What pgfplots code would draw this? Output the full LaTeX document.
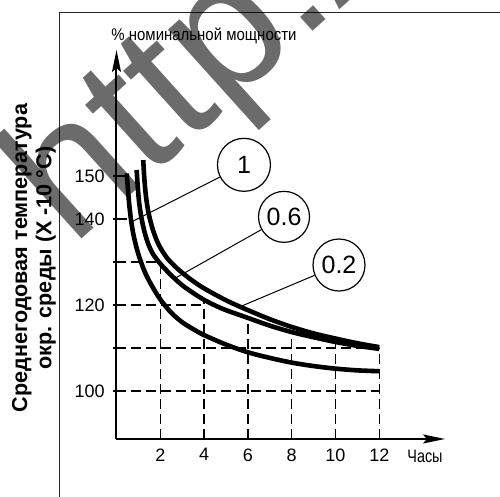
\documentclass[border=0pt]{standalone}
\usepackage{pgfplots}
\pgfplotsset{compat=1.18}
\usepackage{fontspec}
\setmainfont{Liberation Sans}
\usepackage{graphicx}
\usetikzlibrary{arrows.meta}
\begin{document}
\begin{tikzpicture}
\useasboundingbox (0,0) rectangle (250pt,248.5pt);
\clip (0,0) rectangle (250pt,248.5pt);
\fill[white] (0,0) rectangle (250pt,248.5pt);
\begin{scope}[x=0.5pt,y=-0.5pt,shift={(0pt,248.5pt)}]
\draw[line width=0.5pt, black!85] (60,500) -- (60,13) -- (505,13);
\node[rotate=90, font=\bfseries\fontsize{10.8}{12.2}\selectfont, align=center] at (34,258) {Среднегодовая температура\\окр. среды (X -10 °C)};
\end{scope}
\begin{axis}[
  at={(58.25pt,29pt)}, anchor=south west,
  x=10.95pt, y=2.15pt,
  xmin=0, xmax=15, ymin=88.84, ymax=179.3,
  axis lines=left,
  axis line style={line width=1pt, black},
  x axis line style={-{Stealth[length=11pt,width=4.5pt,inset=2pt]}},
  y axis line style={-{Stealth[length=11pt,width=4.5pt,inset=2pt]}},
  xtick={2,4,6,8,10,12}, xticklabels={2,4,6,8,10,12},
  x tick style={draw=none},
  ytick={100,110,120,130,140,150}, yticklabels={100,,120,,140,150},
  y tick style={line width=0.8pt, black},
  tick align=center, major tick length=3.5pt,
  tick label style={font=\fontsize{9}{10}\selectfont},
  xticklabel style={yshift=0.5pt},
  yticklabel style={inner sep=0pt, xshift=-4pt},
  clip=false,
]
% dashed reference lines
\pgfplotsset{dl/.style={line width=0.75pt, black, dash pattern=on 5pt off 2.5pt}}
\addplot[dl] coordinates {(0,100) (12,100)};
\addplot[dl] coordinates {(0,110) (12,110)};
\addplot[dl] coordinates {(0,120) (4,120)};
\addplot[dl] coordinates {(0,130) (2,130)};
\addplot[dl] coordinates {(0,150) (0.47,150)};
\addplot[dl] coordinates {(2,88.84) (2,129.6)};
\addplot[dl] coordinates {(4,88.84) (4,121.2)};
\addplot[dl] coordinates {(6,88.84) (6,117.0)};
\addplot[dl] coordinates {(8,88.84) (8,113.7)};
\addplot[dl] coordinates {(10,88.84) (10,111.4)};
\addplot[dl] coordinates {(12,88.84) (12,110)};
\addplot[line width=0.8pt, black] coordinates {(0,140) (0.5,140)};
% curve 1
\addplot[line width=2.3pt, black, smooth] coordinates {
(0.47,150.6) (0.52,147) (0.58,143.5) (0.65,140.3) (0.75,137) (0.88,134) (1.05,131)
(1.3,127.6) (1.6,124.6) (2.0,121.3) (2.5,118.2) (3.0,116.0) (3.5,114.4) (4.0,113.0)
(5.0,110.8) (6.0,109.0) (7.0,107.7) (8.0,106.6) (9.0,105.8) (10.0,105.2) (11.0,104.8) (12.0,104.6)};
% curve 0.6
\addplot[line width=2.3pt, black, smooth] coordinates {
(0.92,151.4) (0.97,147.5) (1.03,144) (1.12,140.8) (1.25,137.6) (1.42,134.6) (1.65,132.0)
(2.0,129.6) (2.5,126.9) (3.0,124.6) (3.5,122.8) (4.0,121.2) (4.5,119.9) (5.0,118.8)
(6.0,117.0) (7.0,115.2) (8.0,113.7) (9.0,112.5) (10.0,111.4) (11.0,110.5) (12.0,109.8)};
% curve 0.2
\addplot[line width=2.3pt, black, smooth] coordinates {
(1.22,153.7) (1.27,149.5) (1.33,146) (1.42,142.6) (1.55,139.5) (1.72,136.6) (1.95,133.8)
(2.3,131.0) (2.75,128.6) (3.3,126.3) (3.8,124.5) (4.3,123.0) (5.0,121.1) (5.64,119.6)
(6.0,118.8) (7.0,116.7) (8.0,114.9) (9.0,113.4) (10.0,112.2) (11.0,111.1) (12.0,110.2)};
% labels
\node[draw, circle, line width=0.6pt, minimum size=26.5pt, inner sep=0pt, fill=white,
      font=\fontsize{12.5}{14}\selectfont] (c1) at (axis cs:5.82,152.6) {1};
\node[draw, circle, line width=0.6pt, minimum size=25.5pt, inner sep=0pt, fill=white,
      font=\fontsize{12.5}{14}\selectfont] (c2) at (axis cs:7.65,140.5) {0.6};
\node[draw, circle, line width=0.6pt, minimum size=26pt, inner sep=0pt, fill=white,
      font=\fontsize{12.5}{14}\selectfont] (c3) at (axis cs:10.16,129.3) {0.2};
\draw[line width=0.5pt] (c1) -- (axis cs:0.68,139.3);
\draw[line width=0.5pt] (c2) -- (axis cs:2.67,126.2);
\draw[line width=0.5pt] (c3) -- (axis cs:5.64,119.6);
\end{axis}
\begin{scope}[x=0.5pt,y=-0.5pt,shift={(0pt,248.5pt)}]
\node[font=\fontsize{8.5}{10}\selectfont, inner sep=0pt] at (204,35.5) {\scalebox{0.88}[1]{\% номинальной мощности}};
\node[font=\fontsize{9}{10}\selectfont, inner sep=0pt] at (425,456.5) {\scalebox{0.8}[1]{Часы}};
\node[rotate=42, anchor=base west, font=\fontsize{92}{92}\selectfont, text=black, text opacity=0.58, inner sep=0pt] at (72,248) {http://};
\end{scope}
\end{tikzpicture}
\end{document}
